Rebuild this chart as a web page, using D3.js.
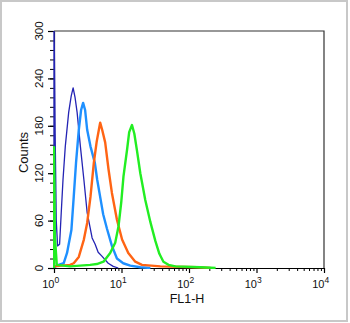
<!DOCTYPE html>
<html>
<head>
<meta charset="utf-8">
<script src="https://cdn.jsdelivr.net/npm/d3@7"></script>
<style>
  body { margin: 0; background: #fff; }
  text { font-family: "Liberation Sans", Arial, Helvetica, sans-serif; fill: #111; }
</style>
</head>
<body>
<div id="chart"></div>
<script>
// histogram outlines, [FL1-H, counts]
var navy = [[1.0, 320], [1.04, 170], [1.08, 60], [1.13, 28], [1.21, 30], [1.28, 70], [1.36, 112], [1.47, 154],
  [1.65, 197], [1.80, 218], [1.92, 228], [2.05, 216], [2.20, 197], [2.46, 154], [2.77, 112],
  [3.10, 70], [3.67, 38], [4.07, 30], [4.51, 20], [5.12, 15], [6.35, 6], [7.54, 2], [8.95, 0]];
var lightBlue = [[1.0, 1], [1.17, 4], [1.39, 6], [1.56, 19], [1.81, 48], [1.96, 90], [2.12, 133],
  [2.33, 175], [2.52, 200], [2.70, 209], [2.89, 200], [3.10, 175], [3.47, 154], [4.03, 133],
  [4.36, 112], [4.83, 90], [5.35, 68], [6.08, 50], [7.21, 28], [8.56, 12], [10.6, 6],
  [13.5, 3], [19.0, 1], [26.8, 0]];
var orange = [[1.0, 2], [1.73, 4], [1.96, 6], [2.33, 14], [2.77, 36], [3.10, 57], [3.47, 90],
  [3.89, 133], [4.29, 160], [4.62, 175], [4.83, 184], [5.17, 175], [5.73, 159], [6.42, 125],
  [7.21, 95], [8.56, 61], [10.2, 36], [12.6, 19], [16.0, 8], [20.1, 4], [37.7, 2], [134, 1], [209, 0]];
var green = [[1.0, 153], [1.03, 40], [1.10, 4], [1.73, 2], [3.43, 4], [4.31, 5], [5.41, 8],
  [6.80, 19], [8.07, 32], [9.04, 53], [9.91, 83], [10.7, 116], [12.1, 150], [13.0, 172],
  [14.3, 181], [15.5, 170], [17.0, 148], [19.0, 120], [22.5, 86], [26.8, 58], [31.8, 34],
  [36.4, 18], [41.8, 8], [49.6, 4], [63, 2], [148, 1], [248, 0]];

var series = [
  {data: navy, color: "#2424b4", width: 1.3},
  {data: lightBlue, color: "#1e90ff", width: 2.4},
  {data: orange, color: "#ff6414", width: 2.4},
  {data: green, color: "#22ee22", width: 2.4}
];

var yTicks = [0, 60, 120, 180, 240, 300];
var xTicks = [1, 10, 100, 1000, 10000];
var xTickExp = ["0", "1", "2", "3", "4"];

var W = 350, H = 323;
var margin = {top: 31, right: 26, bottom: 55, left: 54};

var svg = d3.select("#chart").append("svg")
  .attr("width", W).attr("height", H);

// outer frame
svg.append("rect")
  .attr("x", 1).attr("y", 1).attr("width", W - 4).attr("height", H - 3)
  .attr("fill", "none").attr("stroke", "#c8c8c8").attr("stroke-width", 2);

var x = d3.scaleLog().domain([1, 10000]).range([margin.left, W - margin.right]);
var y = d3.scaleLinear().domain([0, 300]).range([H - margin.bottom, margin.top]);

svg.append("clipPath").attr("id", "clip")
  .append("rect")
  .attr("x", margin.left - 1).attr("y", margin.top)
  .attr("width", x.range()[1] - margin.left + 1).attr("height", y.range()[0] - margin.top + 1);

// box top / right
svg.append("path")
  .attr("d", "M" + x.range()[0] + "," + y.range()[1] + "H" + x.range()[1] + "V" + y.range()[0])
  .attr("fill", "none").attr("stroke", "#333").attr("stroke-width", 1.2);

var line = d3.line()
  .x(function(d) { return x(d[0]); })
  .y(function(d) { return y(d[1]); });

// axes first so traces sit on top
var yMinor = d3.range(0, 301, 12);
svg.append("g").attr("transform", "translate(" + margin.left + ",0)")
  .call(d3.axisLeft(y).tickValues(yMinor).tickSize(4).tickFormat(""))
  .call(function(g) { g.select(".domain").remove(); });
svg.append("g").attr("transform", "translate(" + margin.left + ",0)")
  .call(d3.axisLeft(y).tickValues(yTicks).tickSize(6).tickSizeOuter(0).tickFormat(""))
  .call(function(g) { g.selectAll("line, path").attr("stroke-width", 1.2); });

var xMinor = [];
xTicks.slice(0, 4).forEach(function(t) {
  for (var k = 2; k <= 9; k++) xMinor.push(t * k);
});
svg.append("g").attr("transform", "translate(0," + y.range()[0] + ")")
  .call(d3.axisBottom(x).tickValues(xMinor).tickSize(3).tickFormat(""))
  .call(function(g) { g.select(".domain").remove(); });
svg.append("g").attr("transform", "translate(0," + y.range()[0] + ")")
  .call(d3.axisBottom(x).tickValues(xTicks).tickSize(5).tickSizeOuter(0).tickFormat(""))
  .call(function(g) { g.selectAll("line, path").attr("stroke-width", 1.2); });

// traces
var traces = svg.append("g").attr("clip-path", "url(#clip)");
series.forEach(function(s) {
  var pts = [[s.data[0][0], 0]].concat(s.data);
  traces.append("path")
    .datum(pts)
    .attr("d", line)
    .attr("fill", "none")
    .attr("stroke", s.color)
    .attr("stroke-width", s.width)
    .attr("stroke-linejoin", "round");
});

// y tick labels, rotated
svg.selectAll(".ylab").data(yTicks).enter().append("text")
  .attr("class", "ylab")
  .attr("transform", function(d) { return "translate(43," + y(d) + ") rotate(-90)"; })
  .attr("text-anchor", "middle")
  .attr("font-size", 11.5)
  .text(function(d) { return d; });

// x tick labels 10^n
xTicks.forEach(function(t, i) {
  var px = x(t) + 0.5;
  svg.append("text").attr("x", px).attr("y", 288)
    .attr("text-anchor", "end").attr("font-size", 11).text("10");
  svg.append("text").attr("x", px).attr("y", 283)
    .attr("text-anchor", "start").attr("font-size", 8.5).text(xTickExp[i]);
});

// axis titles
svg.append("text")
  .attr("x", (x.range()[0] + x.range()[1]) / 2 - 2).attr("y", 303)
  .attr("text-anchor", "middle").attr("font-size", 12.5)
  .text("FL1-H");
svg.append("text")
  .attr("transform", "translate(28," + ((y.range()[0] + y.range()[1]) / 2 + 3) + ") rotate(-90)")
  .attr("text-anchor", "middle").attr("font-size", 13)
  .text("Counts");
</script>
</body>
</html>
